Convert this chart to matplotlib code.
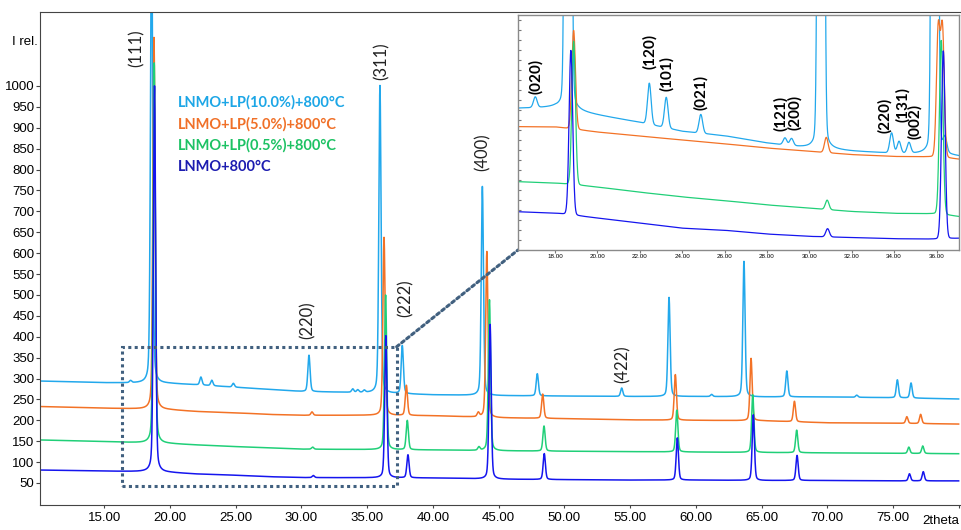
import numpy as np
import matplotlib
matplotlib.use("Agg")
import matplotlib.pyplot as plt
from matplotlib.patches import Rectangle, ConnectionPatch

# ---- data ----
series_names = ["LNMO+LP(10.0%)+800°C", "LNMO+LP(5.0%)+800°C",
                "LNMO+LP(0.5%)+800°C", "LNMO+800°C"]
line_colors = ["#22A8EC", "#F37226", "#20CF78", "#1515EE"]
text_colors = ["#1CA6E6", "#F07028", "#1DC264", "#1C1CB0"]

# background (2theta, intensity) for the main plot
bg_x = [10, 15, 18, 20, 22, 25, 27.5, 30, 35, 40, 45, 50, 55, 60, 65, 70, 75, 80]
cyan_bg = [294, 290, 289, 288, 285, 279, 274, 269, 266, 261, 259, 258, 257, 257, 256, 256, 254, 251]
orange_bg = [233, 229, 227, 225, 221, 218, 214, 212, 212, 211, 206, 204, 201, 200, 199, 194, 193, 191]
green_bg = [153, 149, 146, 144, 141, 137, 134, 131, 130, 129, 127, 126, 125, 124, 123, 122, 121, 120]
blue_bg = [81, 78.5, 77, 75, 71.5, 68.5, 65, 63, 62.5, 62, 59, 58, 57, 57, 56, 56, 55, 55]

# peaks: position (2theta) and height above background
cyan_pos = [17.0, 18.6, 22.35, 23.18, 24.82, 30.57, 33.9, 34.28, 34.78, 35.97, 37.67,
            43.76, 47.94, 54.36, 57.96, 61.2, 63.66, 66.92, 72.24, 75.33, 76.37]
cyan_hgt = [5, 1100, 19, 13, 9, 87, 8, 6, 5, 736, 115, 500, 53, 20, 237, 5, 324, 62, 5, 43, 36]
orange_pos = [18.78, 30.8, 36.28, 37.98, 43.45, 44.1, 48.35, 58.44, 64.2, 67.5, 76.05, 77.1]
orange_hgt = [890, 8, 426, 72, 10, 397, 58, 109, 149, 49, 16, 22]
green_pos = [18.8, 30.85, 36.4, 38.05, 43.5, 44.3, 48.45, 58.55, 64.33, 67.67, 76.2, 77.26]
green_hgt = [910, 5, 370, 70, 8, 361, 60, 100, 138, 54, 15, 18]
blue_pos = [18.82, 30.9, 36.42, 38.1, 44.35, 48.47, 58.59, 64.37, 67.7, 76.25, 77.3]
blue_hgt = [924, 5, 340, 55, 370, 62, 101, 157, 60, 17, 22]

# inset (zoom 16-37 deg), own intensity scale
in_bg_x = [16.2, 18, 20, 22, 24, 26, 28, 30, 32, 34, 36, 37.1]
cyan_in_bg = [60.3, 60.6, 57.4, 54.3, 50.5, 48.6, 45.5, 43.2, 42, 41.1, 40.5, 39.7]
orange_in_bg = [52.5, 52.4, 50.2, 48.5, 46.8, 45.2, 43.4, 42, 40.6, 39.8, 39.6, 38.6]
green_in_bg = [29.1, 28.5, 26.8, 24.6, 22.6, 21, 19.2, 17.8, 16.4, 15.6, 15.4, 14.2]
blue_in_bg = [16.3, 15.7, 13.6, 11.4, 9.3, 8.4, 6.8, 5.8, 5.3, 4.8, 4.6, 5]

cyan_in_pos = [17.07, 18.62, 22.45, 23.25, 24.88, 28.85, 29.16, 30.55, 33.88, 34.23, 34.7, 35.92, 36.4]
cyan_in_hgt = [4.5, 1500, 17.5, 13, 8, 3, 3, 1500, 8.5, 5, 4.5, 1500, 6]
orange_in_pos = [18.88, 30.8, 36.08, 36.28]
orange_in_hgt = [42, 6.5, 54, 54]
green_in_pos = [18.88, 30.84, 36.22]
green_in_hgt = [61, 4, 74]
blue_in_pos = [18.75, 30.86, 36.32]
blue_in_hgt = [70, 3.5, 80]

peak_labels = ["(111)", "(311)", "(400)", "(220)", "(222)", "(422)"]
peak_label_x = [17.48, 36.13, 43.77, 30.5, 37.93, 54.42]
peak_label_y = [1091, 1060, 841, 440, 493, 335]

inset_labels = ["(020)", "(120)", "(101)", "(021)", "(121)", "(200)", "(220)", "(131)", "(002)"]
inset_label_x = [17.1, 22.48, 23.27, 24.87, 28.65, 29.32, 33.57, 34.4, 34.98]
inset_label_y = [73.8, 84.4, 74.9, 66.9, 58.2, 58.6, 57.4, 62.1, 54.6]

zoom_x = (16.37, 37.24)
zoom_y = (43, 376)


def pattern(x, bgx, bgy, pos, hgt, fwhm=0.2, eta=0.3):
    y = np.interp(x, bgx, bgy)
    for p, h in zip(pos, hgt):
        d = (x - p) / (fwhm / 2)
        y = y + h * (eta / (1 + d ** 2) + (1 - eta) * np.exp(-np.log(2) * d ** 2))
    return y


plt.rcParams['font.family'] = ['Liberation Sans', 'DejaVu Sans']

fig = plt.figure(figsize=(9.61, 5.30), dpi=100)
ax = fig.add_axes([40 / 961, 25.5 / 530, 921 / 961, 492.5 / 530])

x = np.arange(10.1, 80.0, 0.01)
main_sets = [(cyan_bg, cyan_pos, cyan_hgt), (orange_bg, orange_pos, orange_hgt),
             (green_bg, green_pos, green_hgt), (blue_bg, blue_pos, blue_hgt)]
for (bg, pos, hgt), c in zip(main_sets, line_colors):
    ax.plot(x, pattern(x, bg_x, bg, pos, hgt), color=c, lw=1.1)

ax.set_xlim(10.11, 80.17)
ax.set_ylim(-1.5, 1177)
ax.set_yticks(np.arange(50, 1001, 50))
ax.set_xticks(np.arange(15, 81, 5))
ax.set_xticklabels(["%.2f" % v for v in np.arange(15, 80, 5)] + [""])
ax.tick_params(axis='y', direction='out', length=3, labelsize=9.5, pad=1, color='#444444')
ax.tick_params(axis='x', direction='out', length=2.5, labelsize=9.5, pad=3, color='#444444')
ax.spines['right'].set_visible(False)
for s in ['left', 'top', 'bottom']:
    ax.spines[s].set_color('#444444')

for t, c, yy in zip(series_names, text_colors, [962, 909, 857, 807]):
    ax.text(20.6, yy, t, color=c, fontsize=10.5, fontweight='bold', family='Lato',
            va='center', ha='left')

for lab, lx, ly in zip(peak_labels, peak_label_x, peak_label_y):
    ax.text(lx, ly, lab, rotation=90, fontsize=12, family='Lato', ha='center', va='center',
            color='#222222')

fig.text(12 / 961, 1 - 42 / 530, "I rel.", fontsize=9.5, va='center', ha='left')
fig.text(959 / 961, 1 - 521 / 530, "2theta", fontsize=9.5, va='center', ha='right')

ax.add_patch(Rectangle((zoom_x[0], zoom_y[0]), zoom_x[1] - zoom_x[0], zoom_y[1] - zoom_y[0],
                       fill=False, ec='#41607F', lw=2.2, ls=(0, (1, 1.1)), zorder=4))

# inset
axin = fig.add_axes([518 / 961, 280 / 530, 441 / 961, 235 / 530])
axin.set_zorder(5)
axin.set_facecolor('white')
xi = np.arange(16.2, 37.1, 0.01)
inset_sets = [(cyan_in_bg, cyan_in_pos, cyan_in_hgt), (orange_in_bg, orange_in_pos, orange_in_hgt),
              (green_in_bg, green_in_pos, green_in_hgt), (blue_in_bg, blue_in_pos, blue_in_hgt)]
for (bg, pos, hgt), c in zip(inset_sets, line_colors):
    axin.plot(xi, pattern(xi, in_bg_x, bg, pos, hgt, fwhm=0.2, eta=0.04), color=c, lw=0.9)
axin.set_xlim(16.255, 37.06)
axin.set_ylim(0, 100)
axin.set_xticks(np.arange(18, 37, 2))
axin.set_xticklabels(["%.2f" % v for v in np.arange(18, 37, 2)])
axin.set_yticks(np.arange(4.25, 100, 4.25))
axin.set_yticklabels([])
axin.tick_params(axis='x', direction='out', length=2, labelsize=4.5, pad=1, color='#777777')
axin.tick_params(axis='y', direction='in', length=2, color='#777777')
for s in axin.spines.values():
    s.set_color('#8a8a8a')
    s.set_linewidth(1.0)
for lab, lx, ly in zip(inset_labels, inset_label_x, inset_label_y):
    axin.text(lx, ly, lab, rotation=90, fontsize=11, fontweight='bold', family='Lato',
              ha='center', va='center', color='black')

con = ConnectionPatch(xyA=(zoom_x[1], zoom_y[1]), coordsA=ax.transData,
                      xyB=(0, 0), coordsB=axin.transAxes,
                      color='#41607F', lw=2.2, ls=(0, (1, 1.1)))
fig.add_artist(con)

fig.savefig("out.png", dpi=100)
